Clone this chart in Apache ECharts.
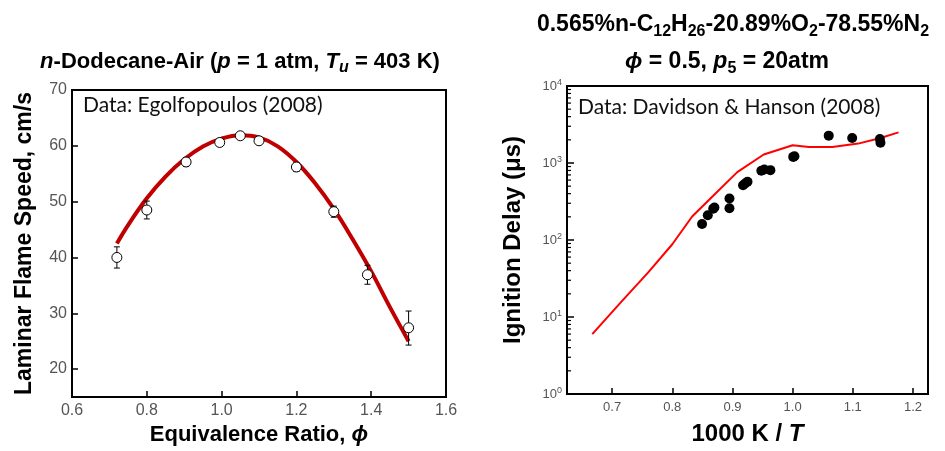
<!DOCTYPE html>
<html><head><meta charset="utf-8">
<script src="https://cdn.jsdelivr.net/npm/echarts@6/dist/echarts.min.js"></script>
<style>html,body{margin:0;padding:0;background:#fff}#c{width:945px;height:451px}</style>
</head><body><div id="c"></div>
<script>
// ---- Left panel: laminar flame speed ----
const phiExp   = [0.72, 0.80, 0.905, 0.995, 1.05, 1.10, 1.20, 1.30, 1.39, 1.50];
const sExp     = [40.0, 48.5, 57.1, 60.6, 61.8, 60.9, 56.2, 48.2, 36.9, 27.4];
const sErrLow  = [38.1, 46.9, 56.3, 60.0, 61.2, 60.3, 55.4, 47.2, 35.2, 24.3];
const sErrHigh = [41.9, 50.1, 57.9, 61.2, 62.4, 61.5, 57.0, 49.2, 38.6, 30.4];
const phiModel = [0.72, 0.75, 0.80, 0.85, 0.90, 0.95, 1.00, 1.05, 1.10, 1.15, 1.20, 1.25, 1.30, 1.35, 1.40, 1.45, 1.50];
const sModel   = [42.5, 45.8, 50.6, 54.5, 57.6, 59.9, 61.3, 61.9, 61.5, 59.9, 57.1, 53.3, 48.7, 43.3, 37.5, 31.1, 25.0];
const leftXTicks = [0.6, 0.8, 1.0, 1.2, 1.4, 1.6];
const leftYTicks = [20, 30, 40, 50, 60, 70];

// ---- Right panel: ignition delay ----
const invTExp  = [0.8495, 0.859, 0.868, 0.870, 0.895, 0.895, 0.9176, 0.921, 0.925, 0.948, 0.953, 0.963, 1.001, 1.003, 1.060, 1.099, 1.145, 1.146];
const tauExp   = [161, 210, 255, 264, 345, 259, 513, 543, 571, 792, 824, 808, 1200, 1225, 2265, 2113, 2050, 1830];
const invTModel = [0.667, 0.714, 0.76, 0.80, 0.833, 0.868, 0.908, 0.952, 1.0, 1.027, 1.066, 1.109, 1.146, 1.176];
const tauModel  = [6.0, 15.4, 38, 88, 202, 375, 762, 1288, 1698, 1618, 1618, 1786, 2113, 2500];
const rightXTicks = [0.7, 0.8, 0.9, 1.0, 1.1, 1.2];
const rightYMinor = [2,3,4,5,6,7,8,9,20,30,40,50,60,70,80,90,200,300,400,500,600,700,800,900,2000,3000,4000,5000,6000,7000,8000,9000];

const chart = echarts.init(document.getElementById('c'), null, {renderer: 'canvas'});
const F = 'Liberation Sans, Arial, sans-serif';
const tickLbl = {color: '#555', fontFamily: F};
const boldName = (size) => ({fontFamily: F, fontWeight: 'bold', fontSize: size, color: '#000',
  rich: {i: {fontFamily: F, fontWeight: 'bold', fontStyle: 'italic', fontSize: size, color: '#000'}}});

const option = {
  animation: false,
  backgroundColor: '#fff',
  grid: [
    {left: 72, top: 90, width: 374, height: 309, show: true, borderColor: '#000', borderWidth: 2, backgroundColor: 'transparent'},
    {left: 567, top: 86, width: 361, height: 310, show: true, borderColor: '#000', borderWidth: 2, backgroundColor: 'transparent'}
  ],
  xAxis: [
    {type: 'value', gridIndex: 0, min: 0.6, max: 1.6, interval: 0.2,
     axisLine: {show: true, lineStyle: {color: '#000', width: 2}},
     axisTick: {show: true, inside: true, length: 6, lineStyle: {color: '#000', width: 1.5}},
     axisLabel: {...tickLbl, fontSize: 16, margin: 6, formatter: v => v.toFixed(1)},
     splitLine: {show: false},
     name: 'Equivalence Ratio, {i|ϕ}', nameLocation: 'middle', nameGap: 27, nameTextStyle: boldName(22)},
    {type: 'value', gridIndex: 1, min: 0.625, max: 1.225,
     axisLine: {show: true, lineStyle: {color: '#000', width: 2}},
     axisTick: {show: true, inside: true, length: 6, customValues: rightXTicks, lineStyle: {color: '#000', width: 1.5}},
     axisLabel: {...tickLbl, fontSize: 13, margin: 7, customValues: rightXTicks, formatter: v => v.toFixed(1)},
     splitLine: {show: false},
     name: '1000 K / {i|T}', nameLocation: 'middle', nameGap: 28, nameTextStyle: boldName(24)}
  ],
  yAxis: [
    {type: 'value', gridIndex: 0, min: 15, max: 70,
     axisLine: {show: true, lineStyle: {color: '#000', width: 2}},
     axisTick: {show: true, inside: true, length: 6, customValues: leftYTicks, lineStyle: {color: '#000', width: 1.5}},
     axisLabel: {...tickLbl, fontSize: 16, margin: 5, customValues: leftYTicks},
     splitLine: {show: false},
     name: 'Laminar Flame Speed, cm/s', nameLocation: 'middle', nameGap: 36, nameRotate: 90, nameTextStyle: boldName(23)},
    {type: 'log', gridIndex: 1, logBase: 10, min: 1, max: 10000,
     axisLine: {show: true, lineStyle: {color: '#000', width: 2}},
     axisTick: {show: true, inside: true, length: 7, lineStyle: {color: '#000', width: 1.5}},
     axisLabel: {...tickLbl, fontSize: 13, margin: 5,
       formatter: v => '{b|10}{s|' + Math.round(Math.log10(v)) + '}',
       rich: {b: {fontSize: 13, color: '#555', fontFamily: F, lineHeight: 16},
              s: {fontSize: 9, color: '#555', fontFamily: F, verticalAlign: 'top', lineHeight: 9}}},
     splitLine: {show: false},
     name: 'Ignition Delay (μs)', nameLocation: 'middle', nameGap: 42, nameRotate: 90, nameTextStyle: boldName(24)}
  ],
  series: [
    {type: 'line', xAxisIndex: 0, yAxisIndex: 0, data: phiModel.map((p, i) => [p, sModel[i]]),
     smooth: 0.4, symbol: 'none', lineStyle: {color: '#c00000', width: 4}, z: 2},
    {type: 'custom', xAxisIndex: 0, yAxisIndex: 0, z: 3,
     data: phiExp.map((p, i) => [p, sErrLow[i], sErrHigh[i]]),
     encode: {x: 0, y: [1, 2]},
     renderItem: (params, api) => {
       const lo = api.coord([api.value(0), api.value(1)]);
       const hi = api.coord([api.value(0), api.value(2)]);
       const w = 3, st = {stroke: '#000', lineWidth: 1};
       return {type: 'group', children: [
         {type: 'line', shape: {x1: lo[0], y1: lo[1], x2: hi[0], y2: hi[1]}, style: st},
         {type: 'line', shape: {x1: lo[0] - w, y1: lo[1], x2: lo[0] + w, y2: lo[1]}, style: st},
         {type: 'line', shape: {x1: hi[0] - w, y1: hi[1], x2: hi[0] + w, y2: hi[1]}, style: st}
       ]};
     }},
    {type: 'scatter', xAxisIndex: 0, yAxisIndex: 0, data: phiExp.map((p, i) => [p, sExp[i]]),
     symbol: 'circle', symbolSize: 10, itemStyle: {color: '#fff', borderColor: '#000', borderWidth: 1, opacity: 1}, z: 4},
    {type: 'custom', xAxisIndex: 1, yAxisIndex: 1, z: 5, silent: true, clip: false,
     data: rightYMinor.map(v => [0.625, v]),
     encode: {x: 0, y: 1},
     renderItem: (params, api) => {
       const c = api.coord([api.value(0), api.value(1)]);
       return {type: 'line', shape: {x1: c[0], y1: c[1], x2: c[0] + 4, y2: c[1]}, style: {stroke: '#000', lineWidth: 1.2}};
     }},
    {type: 'line', xAxisIndex: 1, yAxisIndex: 1, data: invTModel.map((p, i) => [p, tauModel[i]]),
     symbol: 'none', lineStyle: {color: '#ff0000', width: 2}, z: 2},
    {type: 'scatter', xAxisIndex: 1, yAxisIndex: 1, data: invTExp.map((p, i) => [p, tauExp[i]]),
     symbol: 'circle', symbolSize: 10, itemStyle: {color: '#000', opacity: 1}, z: 4}
  ],
  graphic: [
    {type: 'text', x: 240, y: 62, z: 10, style: {
      text: '{m|}{bi|n}{m|-Dodecane-Air (}{bi|p}{m| = 1 atm, }{bi|T}{sub|u}{m| = 403 K)}',
      align: 'center', verticalAlign: 'middle', font: 'bold 22px ' + F, fill: '#000',
      rich: {m: {fontFamily: F, fontWeight: 'bold', fontSize: 22, lineHeight: 28},
             bi: {fontFamily: F, fontWeight: 'bold', fontStyle: 'italic', fontSize: 22, lineHeight: 28},
             sub: {fontFamily: F, fontWeight: 'bold', fontStyle: 'italic', fontSize: 16, verticalAlign: 'bottom', lineHeight: 16}}}},
    {type: 'text', x: 733, y: 25, z: 10, style: {
      text: '{m|0.565%n-C}{sub|12}{m|H}{sub|26}{m|-20.89%O}{sub|2}{m|-78.55%N}{sub|2}',
      align: 'center', verticalAlign: 'middle', font: 'bold 23px ' + F, fill: '#000',
      rich: {m: {fontFamily: F, fontWeight: 'bold', fontSize: 23, lineHeight: 30},
             sub: {fontFamily: F, fontWeight: 'bold', fontSize: 16, verticalAlign: 'bottom', lineHeight: 16}}}},
    {type: 'text', x: 727, y: 62, z: 10, style: {
      text: '{bi|ϕ}{m| = 0.5, }{bi|p}{sub|5}{m| = 20atm}',
      align: 'center', verticalAlign: 'middle', font: 'bold 23px ' + F, fill: '#000',
      rich: {m: {fontFamily: F, fontWeight: 'bold', fontSize: 23, lineHeight: 30},
             bi: {fontFamily: F, fontWeight: 'bold', fontStyle: 'italic', fontSize: 23, lineHeight: 30},
             sub: {fontFamily: F, fontWeight: 'bold', fontSize: 16, verticalAlign: 'bottom', lineHeight: 16}}}},
    {type: 'text', x: 83, y: 105, z: 10, style: {
      text: 'Data: Egolfopoulos (2008)', align: 'left', verticalAlign: 'middle',
      font: '21px Lato, "Open Sans", sans-serif', fill: '#111'}},
    {type: 'text', x: 578, y: 107, z: 10, style: {
      text: 'Data: Davidson & Hanson (2008)', align: 'left', verticalAlign: 'middle',
      font: '21px Lato, "Open Sans", sans-serif', fill: '#111'}}
  ]
};
chart.setOption(option);
</script></body></html>
